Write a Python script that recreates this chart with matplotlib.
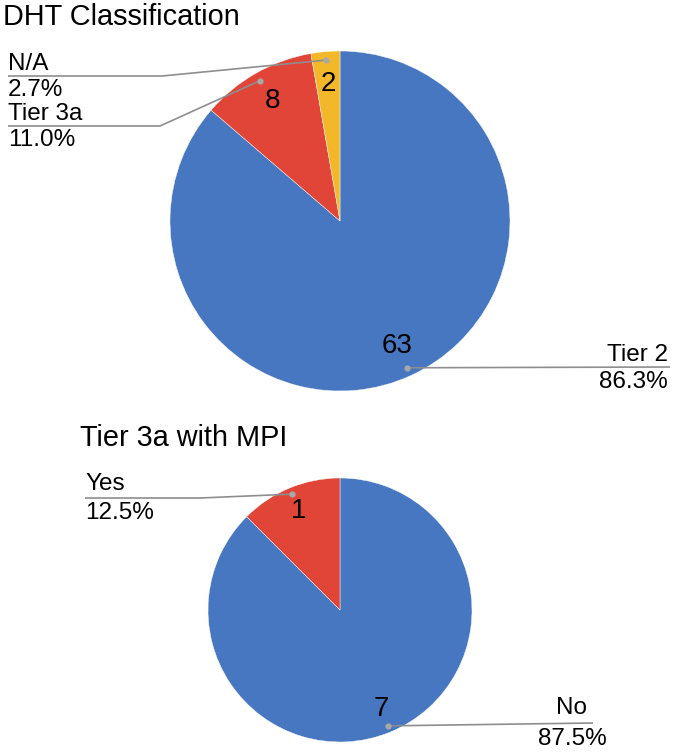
import numpy as np
import matplotlib
matplotlib.use("Agg")
import matplotlib.pyplot as plt

plt.rcParams['font.family'] = ['Liberation Sans', 'DejaVu Sans']

# данные
dht_labels = ['Tier 2', 'Tier 3a', 'N/A']
dht_counts = [63, 8, 2]
mpi_labels = ['No', 'Yes']
mpi_counts = [7, 1]

W, H = 674, 752
BLUE = '#4677C0'
RED = '#E04537'
YELLOW = '#F3B82A'
LINE = '#8E8E8E'
DOT = '#A8A8A8'


def Y(y):
    # пиксели сверху -> координаты снизу
    return H - y


fig = plt.figure(figsize=(W / 100, H / 100), dpi=100)
ax = fig.add_axes([0, 0, 1, 1])


def draw_pie(counts, colors, cx, cy, r):
    ax.pie(counts, colors=colors, startangle=90, counterclock=False,
           center=(cx, Y(cy)), radius=r,
           wedgeprops=dict(edgecolor='white', linewidth=0.3))
    fr = np.array(counts) / sum(counts)
    start = 90 - 360 * np.concatenate([[0], np.cumsum(fr)[:-1]])
    mid = np.radians(start - 180 * fr)
    anchors = []
    for n, a in zip(counts, mid):
        ax.text(cx + 0.81 * r * np.cos(a), Y(cy) + 0.81 * r * np.sin(a), str(n),
                fontsize=20, ha='center', va='center', color='black')
        anchors.append((cx + 0.95 * r * np.cos(a), Y(cy) + 0.95 * r * np.sin(a)))
    return anchors, fr


def leader(anchor, pts):
    xs = [anchor[0]] + [p[0] for p in pts]
    ys = [anchor[1]] + [Y(p[1]) for p in pts]
    ax.plot(xs, ys, color=LINE, lw=1.2, solid_capstyle='butt', zorder=3)
    ax.plot(anchor[0], anchor[1], 'o', color=DOT, ms=4.5, mec='none', zorder=4)


def label(x, y1, y2, name, pct, ha='left'):
    ax.text(x, Y(y1), name, fontsize=17.5, ha=ha, va='baseline')
    ax.text(x, Y(y2), pct, fontsize=17.5, ha=ha, va='baseline')


# верхняя диаграмма
ax.text(3, Y(25), 'DHT Classification', fontsize=20.8, ha='left', va='baseline')
anc, fr = draw_pie(dht_counts, [BLUE, RED, YELLOW], 340, 221, 170)
pcts = [f'{v * 100:.1f}%' for v in fr]
leader(anc[2], [(162, 76), (8, 76)])
leader(anc[1], [(160, 126), (8, 126)])
leader(anc[0], [(670, 367)])
label(8, 70, 96, dht_labels[2], pcts[2])
label(8, 120, 146, dht_labels[1], pcts[1])
label(668, 361, 388, dht_labels[0], pcts[0], ha='right')

# нижняя диаграмма
ax.text(80, Y(446), 'Tier 3a with MPI', fontsize=20.8, ha='left', va='baseline')
anc, fr = draw_pie(mpi_counts, [BLUE, RED], 340, 610, 132)
pcts = [f'{v * 100:.1f}%' for v in fr]
leader(anc[1], [(200, 498), (85, 498)])
leader(anc[0], [(593, 723)])
label(85, 490, 519, mpi_labels[1], pcts[1])
label(572, 714, 745, mpi_labels[0], pcts[0], ha='center')

ax.set_xlim(0, W)
ax.set_ylim(0, H)
ax.set_aspect('equal')
ax.axis('off')

plt.savefig('out.png', dpi=100)
